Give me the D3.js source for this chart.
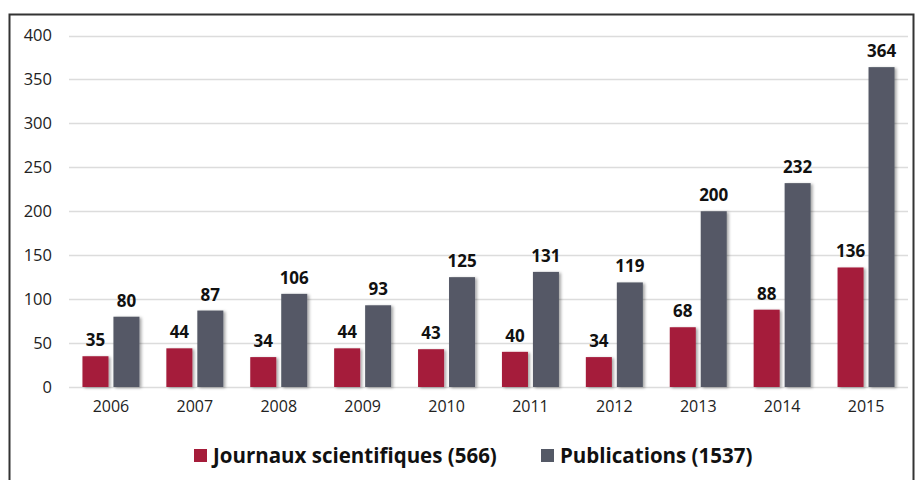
<!DOCTYPE html>
<html>
<head>
<meta charset="utf-8">
<script src="https://cdn.jsdelivr.net/npm/d3@7"></script>
<style>
  body { margin: 0; background: #fff; }
  svg { font-family: "Open Sans", "Noto Sans", sans-serif; }
</style>
</head>
<body>
<div id="chart"></div>
<script>
// --------- DATA ---------
const years = ["2006", "2007", "2008", "2009", "2010", "2011", "2012", "2013", "2014", "2015"];
const journaux = [35, 44, 34, 44, 43, 40, 34, 68, 88, 136];
const publications = [80, 87, 106, 93, 125, 131, 119, 200, 232, 364];
const seriesNames = ["Journaux scientifiques (566)", "Publications (1537)"];
const yTicks = [0, 50, 100, 150, 200, 250, 300, 350, 400];

const colors = ["#a51c3a", "#545966"];
const width = 915, height = 480;

let svg = d3.select("#chart").append("svg")
    .attr("width", width)
    .attr("height", height);

// Drop shadow for bars
let defs = svg.append("defs");
let filter = defs.append("filter").attr("id", "shadow")
    .attr("x", "-20%").attr("y", "-10%").attr("width", "150%").attr("height", "130%");
filter.append("feDropShadow")
    .attr("dx", 2).attr("dy", 1)
    .attr("stdDeviation", 1.5)
    .attr("flood-color", "#000")
    .attr("flood-opacity", 0.35);

// Frame
svg.append("path")
    .attr("d", "M9.5,480 V14.5 H913.5 V480")
    .attr("fill", "none")
    .attr("stroke", "#333")
    .attr("stroke-width", 2);

// Scales
let x0 = d3.scaleBand().domain(years).range([69, 908]);
let x1 = d3.scaleBand().domain([0, 1]).range([-28.5, 28.5]).paddingInner(0.16);
let y = d3.scaleLinear().domain([0, 400]).range([387, 35.5]);

// Gridlines
svg.append("g")
    .attr("class", "gridlines")
    .selectAll("line")
    .data(yTicks)
    .join("line")
    .attr("x1", 69).attr("x2", 908)
    .attr("y1", d => Math.round(y(d)) + 0.5)
    .attr("y2", d => Math.round(y(d)) + 0.5)
    .attr("stroke", "#dcdcdc")
    .attr("stroke-width", 1.5);

// Y axis labels
let yAxis = d3.axisLeft(y).tickValues(yTicks).tickSize(0).tickPadding(0);
svg.append("g")
    .attr("transform", "translate(52,0)")
    .call(yAxis)
    .call(g => g.select(".domain").remove())
    .selectAll("text")
    .attr("font-size", 16.5)
    .attr("fill", "#222")
    .attr("font-family", "Open Sans, Noto Sans, sans-serif");

// X axis labels
let xAxis = d3.axisBottom(x0).tickSize(0).tickPadding(0);
svg.append("g")
    .attr("transform", "translate(0,401)")
    .call(xAxis)
    .call(g => g.select(".domain").remove())
    .selectAll("text")
    .attr("font-size", 16)
    .attr("fill", "#222")
    .attr("font-family", "Open Sans, Noto Sans, sans-serif");

// Bars and value labels
let data = [journaux, publications];
data.forEach((vals, s) => {
    let g = svg.append("g");
    g.selectAll("rect")
        .data(vals)
        .join("rect")
        .attr("x", (d, i) => x0(years[i]) + x0.bandwidth() / 2 + x1(s))
        .attr("y", d => y(d))
        .attr("width", x1.bandwidth())
        .attr("height", d => y(0) - y(d))
        .attr("fill", colors[s])
        .attr("filter", "url(#shadow)");

    g.selectAll("text")
        .data(vals)
        .join("text")
        .attr("x", (d, i) => x0(years[i]) + x0.bandwidth() / 2 + x1(s) + x1.bandwidth() / 2)
        .attr("y", d => y(d) - 10)
        .attr("text-anchor", "middle")
        .attr("font-size", 17)
        .attr("font-weight", "bold")
        .attr("fill", "#111")
        .text(d => d);
});

// Legend
let legendX = [194, 541];
let legend = svg.append("g");
seriesNames.forEach((name, s) => {
    legend.append("rect")
        .attr("x", legendX[s]).attr("y", 449)
        .attr("width", 13).attr("height", 13)
        .attr("fill", colors[s]);
    legend.append("text")
        .attr("x", legendX[s] + 19).attr("y", 463)
        .attr("font-size", 20.5)
        .attr("font-weight", "bold")
        .attr("fill", "#111")
        .text(name);
});
</script>
</body>
</html>
